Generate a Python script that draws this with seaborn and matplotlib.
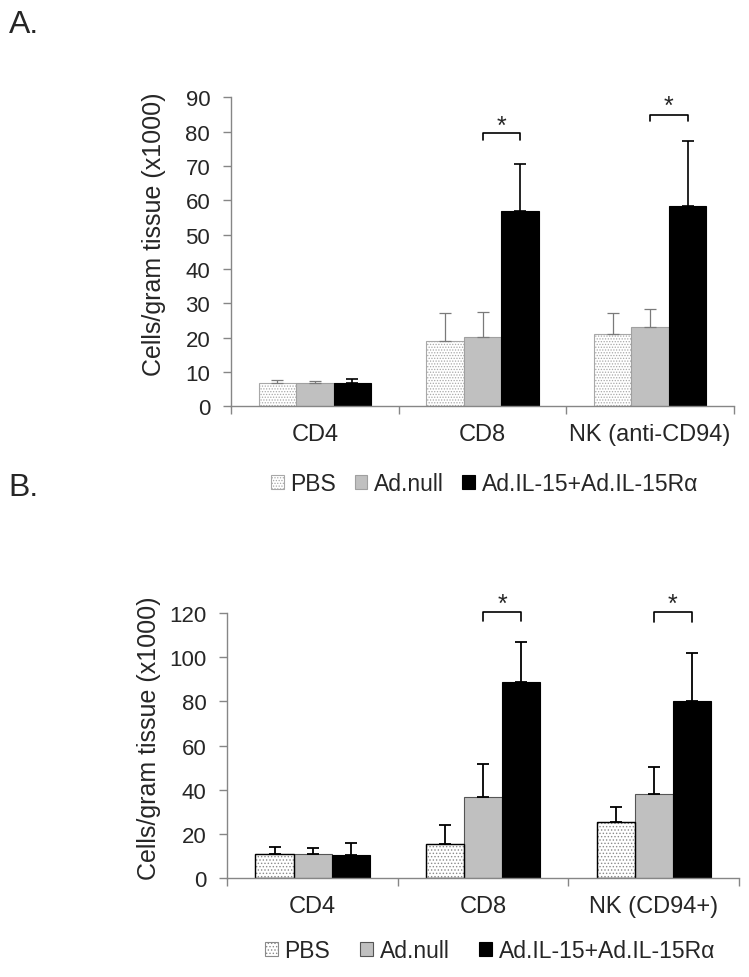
import numpy as np
import pandas as pd
import matplotlib
matplotlib.use('Agg')
import matplotlib.pyplot as plt
from matplotlib.patches import Patch, Rectangle
import seaborn as sns

# values (cells/gram tissue x1000)
groups = ['PBS', 'Ad.null', 'Ad.IL-15+Ad.IL-15Rα']

cells_a = ['CD4', 'CD8', 'NK (anti-CD94)']
mean_a = {
    'PBS': [6.7, 18.9, 21.2],
    'Ad.null': [6.7, 20.3, 23.0],
    'Ad.IL-15+Ad.IL-15Rα': [6.7, 56.9, 58.4],
}
err_a = {
    'PBS': [1.1, 8.2, 5.9],
    'Ad.null': [0.7, 7.1, 5.3],
    'Ad.IL-15+Ad.IL-15Rα': [1.2, 13.6, 18.8],
}
# significance brackets: (category, bracket top, hook end, star baseline)
sig_a = [('CD8', 79.5, 77.7, 79.6), ('NK (anti-CD94)', 84.9, 83.0, 85.6)]

cells_b = ['CD4', 'CD8', 'NK (CD94+)']
mean_b = {
    'PBS': [11.0, 15.2, 25.5],
    'Ad.null': [10.7, 36.7, 37.9],
    'Ad.IL-15+Ad.IL-15Rα': [10.3, 88.6, 80.0],
}
err_b = {
    'PBS': [3.0, 8.6, 6.8],
    'Ad.null': [3.0, 14.8, 12.2],
    'Ad.IL-15+Ad.IL-15Rα': [5.4, 18.1, 21.9],
}
sig_b = [('CD8', 120.6, 116.5, 120.8), ('NK (CD94+)', 120.3, 115.8, 120.8)]

sns.set_style('white')
plt.rcParams['font.family'] = ['Liberation Sans', 'DejaVu Sans']
plt.rcParams['hatch.linewidth'] = 0.6

AXIS_GREY = '#868686'
fills = {'PBS': 'white', 'Ad.null': '#c0c0c0', 'Ad.IL-15+Ad.IL-15Rα': 'black'}


def to_frame(cells, means):
    rows = []
    for g in groups:
        for c, v in zip(cells, means[g]):
            rows.append({'cell': c, 'group': g, 'value': v})
    return pd.DataFrame(rows)


def draw_panel(ax, cells, means, errs, sig, ymax, ystep, dark, label_y):
    df = to_frame(cells, means)
    sns.barplot(data=df, x='cell', y='value', hue='group', order=cells, hue_order=groups,
                palette=fills, width=0.67, errorbar=None, saturation=1, legend=False, ax=ax)

    pbs_edge = '#8a8a8a' if dark else '#a8a8a8'
    for g, cont in zip(groups, ax.containers):
        for p in cont:
            if g == 'PBS':
                p.set_hatch('.....' if dark else '......')
                p.set_edgecolor(pbs_edge)
                p.set_linewidth(0.8)
                if dark:
                    ax.add_patch(Rectangle(p.get_xy(), p.get_width(), p.get_height(),
                                           fill=False, ec='black', lw=1.0, zorder=p.get_zorder() + 0.1))
            elif g == 'Ad.null':
                p.set_edgecolor('#555555' if dark else '#a0a0a0')
                p.set_linewidth(0.8)
            else:
                p.set_edgecolor('black')
                p.set_linewidth(0.8)

        xs = [p.get_x() + p.get_width() / 2 for p in cont]
        ecol = 'black' if (dark or g == groups[2]) else '#7a7a7a'
        lw = 1.3 if dark else (1.2 if ecol == 'black' else 0.9)
        ax.errorbar(xs, means[g], yerr=[np.zeros(len(xs)), errs[g]], fmt='none',
                    ecolor=ecol, elinewidth=lw, capsize=4, capthick=lw, zorder=5)

    # brackets between Ad.null and the IL-15 group
    for cat, top, hook, star in sig:
        i = cells.index(cat)
        p1 = ax.containers[1][i]
        p2 = ax.containers[2][i]
        x1 = p1.get_x() + p1.get_width() / 2
        x2 = p2.get_x() + p2.get_width() / 2
        ax.plot([x1, x1, x2, x2], [hook, top, top, hook], color='black', lw=1.2, clip_on=False)
        ax.text((x1 + x2) / 2, star, '*', ha='center', va='baseline', fontsize=18, clip_on=False)

    ax.set_xlim(-0.5, len(cells) - 0.5)
    ax.set_ylim(0, ymax)
    ax.set_yticks(np.arange(0, ymax + 1, ystep))
    ax.set_xlabel('')
    ax.set_ylabel('Cells/gram tissue (x1000)', fontsize=18)
    ax.yaxis.set_label_coords(-0.13, label_y)

    sns.despine(ax=ax)
    for s in ['left', 'bottom']:
        ax.spines[s].set_color(AXIS_GREY)
        ax.spines[s].set_linewidth(1.0)
    ax.set_xticks(np.arange(-0.5, len(cells)), minor=True)
    ax.tick_params(axis='x', which='major', length=0, pad=12, labelsize=17)
    ax.tick_params(axis='x', which='minor', length=6, width=1, color=AXIS_GREY, direction='out')
    ax.tick_params(axis='y', length=6, width=1, color=AXIS_GREY, direction='out', pad=9, labelsize=16)
    ax.tick_params(left=True, bottom=True, which='both')
    ax.tick_params(axis='x', which='major', length=0)


def legend_handles(dark):
    return [
        Patch(facecolor='white', edgecolor='#8a8a8a' if dark else '#a8a8a8',
              hatch='.....' if dark else '......', lw=0.8, label=groups[0]),
        Patch(facecolor='#c0c0c0', edgecolor='#555555' if dark else '#a0a0a0', lw=0.8, label=groups[1]),
        Patch(facecolor='black', edgecolor='black', lw=0.8, label=groups[2]),
    ]


fig = plt.figure(figsize=(7.49, 9.78), dpi=100)
ax_a = fig.add_axes([0.3084, 0.5835, 0.6716, 0.316])
ax_b = fig.add_axes([0.3035, 0.1012, 0.6832, 0.271])

draw_panel(ax_a, cells_a, mean_a, err_a, sig_a, 90, 10, False, 0.56)
draw_panel(ax_b, cells_b, mean_b, err_b, sig_b, 120, 20, True, 0.53)

fig.legend(handles=legend_handles(False), loc='center', bbox_to_anchor=(484.5 / 749, 1 - 484.5 / 978),
           ncol=3, frameon=False, fontsize=16.5, handlelength=0.55, handleheight=0.55,
           handletextpad=0.3, columnspacing=0.8, borderpad=0)
fig.legend(handles=legend_handles(True), loc='center', bbox_to_anchor=(490 / 749, 1 - 952 / 978),
           ncol=3, frameon=False, fontsize=16.5, handlelength=0.55, handleheight=0.55,
           handletextpad=0.3, columnspacing=1.3, borderpad=0)

fig.text(9 / 749, 1 - 10 / 978, 'A.', fontsize=23, ha='left', va='top')
fig.text(8 / 749, 1 - 473 / 978, 'B.', fontsize=23, ha='left', va='top')

fig.savefig('out.png', dpi=100)
